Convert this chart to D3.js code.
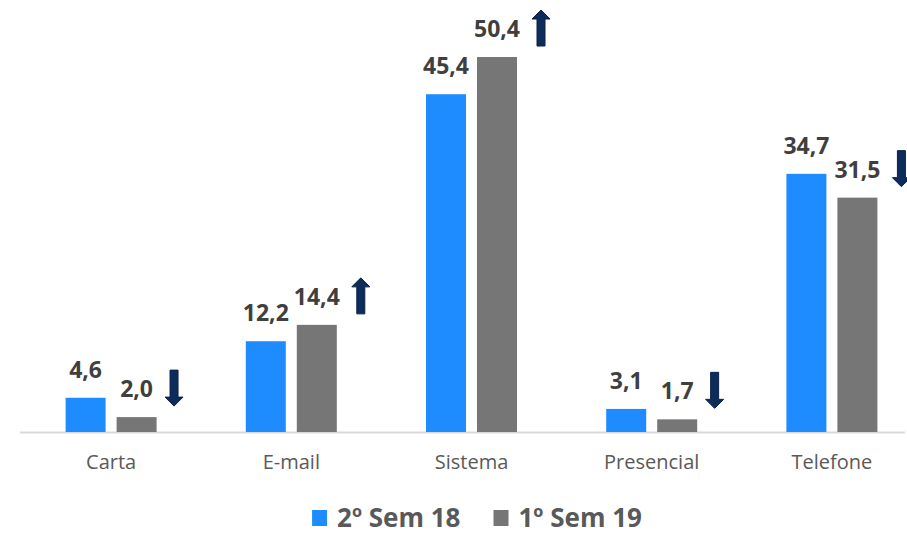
<!DOCTYPE html>
<html>
<head>
<meta charset="utf-8">
<script src="https://cdn.jsdelivr.net/npm/d3@7"></script>
<style>
  html, body { margin: 0; padding: 0; background: #ffffff; }
  svg { display: block; }
</style>
</head>
<body>
<svg id="chart" width="907" height="534"></svg>
<script>
// Canais de atendimento: participação (%) por semestre
const categories = ["Carta", "E-mail", "Sistema", "Presencial", "Telefone"];
const seriesNames = ["2º Sem 18", "1º Sem 19"];
const sem2_18 = [4.6, 12.2, 45.4, 3.1, 34.7];
const sem1_19 = [2.0, 14.4, 50.4, 1.7, 31.5];

const colors = { "2º Sem 18": "#1e8cff", "1º Sem 19": "#767676" };
const arrowColor = "#0d2c5c";
const fmt = v => v.toFixed(1).replace(".", ",");

const svg = d3.select("#chart");
const baseY = 432;

const x = d3.scaleBand().domain(categories).range([21, 922]).padding(0);
const xSub = d3.scaleBand().domain(seriesNames)
  .range([-45.5, 45.5]).paddingInner(2 - 91 / 51);
const y = d3.scaleLinear().domain([0, 50]).range([baseY, 60]);

const rows = categories.map((c, i) => ({
  cat: c,
  values: [
    { s: seriesNames[0], v: sem2_18[i] },
    { s: seriesNames[1], v: sem1_19[i] }
  ],
  up: sem1_19[i] > sem2_18[i]
}));

// baseline
svg.append("line")
  .attr("x1", 20).attr("x2", 905)
  .attr("y1", baseY + 0.5).attr("y2", baseY + 0.5)
  .attr("stroke", "#d9d9d9").attr("stroke-width", 2);

const groups = svg.selectAll("g.cat").data(rows).join("g")
  .attr("class", "cat")
  .attr("transform", d => `translate(${x(d.cat) + x.bandwidth() / 2},0)`);

groups.selectAll("rect").data(d => d.values).join("rect")
  .attr("x", d => xSub(d.s))
  .attr("width", xSub.bandwidth())
  .attr("y", d => y(d.v))
  .attr("height", d => baseY - y(d.v))
  .attr("fill", d => colors[d.s]);

groups.selectAll("text.val").data(d => d.values).join("text")
  .attr("class", "val")
  .attr("x", d => xSub(d.s) + xSub.bandwidth() / 2)
  .attr("y", d => y(d.v) - 20)
  .attr("text-anchor", "middle")
  .attr("font-family", "'Open Sans', sans-serif")
  .attr("font-weight", "bold")
  .attr("font-size", 23)
  .attr("fill", "#3f3f3f")
  .text(d => fmt(d.v));

// trend arrows beside the newest semester value
const arrowPath = "M-4,18 L-4,-9 L-9,-9 L0,-18 L9,-9 L4,-9 L4,18 Z";
groups.each(function (d) {
  const g = d3.select(this);
  const lab = g.selectAll("text.val").filter(v => v.s === seriesNames[1]);
  const w = lab.node().getComputedTextLength();
  const cx = +lab.attr("x") + w / 2 + 21;
  const cy = +lab.attr("y") - 9;
  g.append("path")
    .attr("d", arrowPath)
    .attr("transform", `translate(${cx},${cy}) rotate(${d.up ? 0 : 180})`)
    .attr("fill", arrowColor)
    .attr("stroke", "#0a2146")
    .attr("stroke-width", 1);
});

// category axis labels
const axis = d3.axisBottom(x).tickSize(0).tickPadding(0);
const axG = svg.append("g").attr("transform", `translate(0,${baseY})`).call(axis);
axG.select(".domain").remove();
axG.selectAll("text")
  .attr("y", 37).attr("dy", 0)
  .attr("font-family", "'Open Sans', sans-serif")
  .attr("font-size", 20)
  .attr("fill", "#595959");

// legend
const legend = svg.append("g");
let lx = 0;
seriesNames.forEach((s, i) => {
  if (i > 0) lx += 33;
  legend.append("rect").attr("x", lx).attr("y", 510).attr("width", 15).attr("height", 16)
    .attr("fill", colors[s]);
  lx += 15 + 10;
  const t = legend.append("text").attr("x", lx).attr("y", 527)
    .attr("font-family", "'Open Sans', sans-serif")
    .attr("font-weight", "bold").attr("font-size", 26)
    .attr("fill", "#595959").text(s);
  lx += t.node().getComputedTextLength();
});
legend.attr("transform", `translate(${477 - lx / 2},0)`);
</script>
</body>
</html>
